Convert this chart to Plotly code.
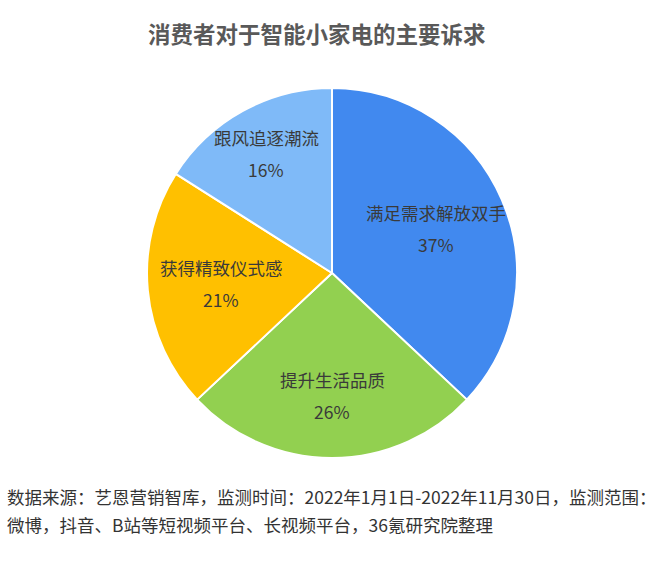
import math
import plotly.graph_objects as go

labels = ["满足需求解放双手", "提升生活品质", "获得精致仪式感", "跟风追逐潮流"]
values = [37, 26, 21, 16]
colors = ["#4189EF", "#92D050", "#FFC000", "#7FBAF8"]
label_r = [0.61, 0.66, 0.60, 0.74]

title = "消费者对于智能小家电的主要诉求"
footer1 = "数据来源：艺恩营销智库，监测时间：2022年1月1日-2022年11月30日，监测范围："
footer2 = "微博，抖音、B站等短视频平台、长视频平台，36氪研究院整理"

W, H = 660, 578
CX, CY, R = 332, 273, 185
dom_x = [(CX - R) / W, (CX + R) / W]
dom_y = [(H - CY - R) / H, (H - CY + R) / H]

FONT = "Microsoft YaHei, Noto Sans CJK SC, sans-serif"

fig = go.Figure(go.Pie(
    labels=labels, values=values, sort=False, direction="clockwise", rotation=0,
    marker=dict(colors=colors, line=dict(color="white", width=2)),
    textinfo="none", hoverinfo="label+percent", showlegend=False,
    domain=dict(x=dom_x, y=dom_y),
))

total = sum(values)
cum = 0
annotations = []
for lab, v, rf in zip(labels, values, label_r):
    mid = (cum + v / 2) / total * 2 * math.pi
    cum += v
    px = CX + rf * R * math.sin(mid)
    py = CY - rf * R * math.cos(mid)
    xp, yp = px / W, (H - py) / H
    pct = f"{round(v / total * 100)}%"
    annotations.append(dict(x=xp, y=yp, xref="paper", yref="paper", text=lab,
                            showarrow=False, yshift=16, xanchor="center", yanchor="middle",
                            font=dict(size=17.5, color="#3a3a3a", family=FONT)))
    annotations.append(dict(x=xp, y=yp, xref="paper", yref="paper", text=pct,
                            showarrow=False, yshift=-16, xanchor="center", yanchor="middle",
                            font=dict(size=17.5, color="#3a3a3a", family=FONT)))

annotations.append(dict(x=317 / W, y=(H - 33) / H, xref="paper", yref="paper",
                        text=f"<b>{title}</b>", showarrow=False, xanchor="center", yanchor="middle",
                        font=dict(size=22.5, color="#595959", family=FONT)))
annotations.append(dict(x=5 / W, y=(H - 496) / H, xref="paper", yref="paper",
                        text=footer1, showarrow=False, xanchor="left", yanchor="middle",
                        font=dict(size=17.5, color="#333333", family=FONT)))
annotations.append(dict(x=5 / W, y=(H - 524) / H, xref="paper", yref="paper",
                        text=footer2, showarrow=False, xanchor="left", yanchor="middle",
                        font=dict(size=17.5, color="#333333", family=FONT)))

fig.update_layout(
    width=W, height=H, margin=dict(l=0, r=0, t=0, b=0),
    paper_bgcolor="white", plot_bgcolor="white",
    annotations=annotations,
)

fig.write_html("out.html", config={"displayModeBar": False},
               post_script="document.body.style.margin='0';document.body.style.padding='0';document.body.style.overflow='hidden';")
